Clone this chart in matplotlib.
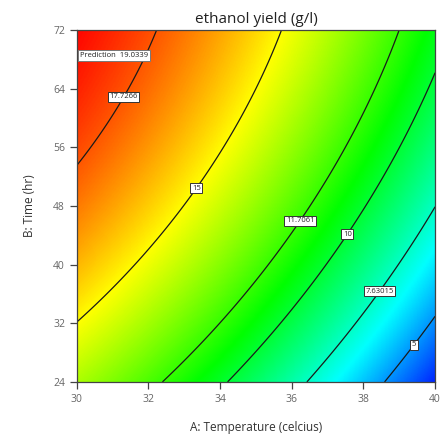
import numpy as np
import matplotlib
matplotlib.use("Agg")
import matplotlib.pyplot as plt
from matplotlib.colors import LinearSegmentedColormap

plt.rcParams["font.family"] = ["Open Sans", "DejaVu Sans"]

# Points read along the contour lines of the reference (temperature, time, yield)
temp_pts = [30, 30, 31.3, 32.3, 30, 33.3, 35.7, 32.4, 36.2, 39.0,
            34.25, 37.5, 37.9, 40, 36.5, 38.4, 40, 38.6, 39.35, 40]
time_pts = [72, 53, 62.9, 72, 32.5, 50.5, 72, 24, 46.1, 72,
            24, 44.3, 46.1, 66.8, 24, 36.5, 46.5, 24, 29.3, 33.1]
yield_pts = [19.0339, 17.7266, 17.7266, 17.7266, 15, 15, 15, 11.7061, 11.7061, 11.7061,
             10, 10, 10, 10, 7.63015, 7.63015, 7.63015, 5, 5, 5]

levels = [5, 7.63015, 10, 11.7061, 15, 17.7266]
level_text = ["5", "7.63015", "10", "11.7061", "15", "17.7266"]
label_pos = [(39.35, 29.3), (38.4, 36.5), (37.5, 44.3), (36.2, 46.1), (33.3, 50.5), (31.3, 62.9)]
prediction = 19.0339

x_ticks = [30, 32, 34, 36, 38, 40]
y_ticks = [24, 32, 40, 48, 56, 64, 72]

# quadratic response surface in coded units
def terms(t, h):
    a = (np.asarray(t) - 35) / 5
    b = (np.asarray(h) - 48) / 24
    return np.stack([np.ones_like(a), a, b, a * b, a ** 2, b ** 2], axis=-1)

coef, *_ = np.linalg.lstsq(terms(temp_pts, time_pts), np.array(yield_pts), rcond=None)

T, H = np.meshgrid(np.linspace(30, 40, 300), np.linspace(24, 72, 300))
Z = terms(T, H) @ coef

cmap = LinearSegmentedColormap.from_list(
    "de", ["#0000ff", "#00ffff", "#00ff00", "#ffff00", "#ff0000"])

fig = plt.figure(figsize=(4.44, 4.40), dpi=100)
ax = fig.add_axes([0.173, 0.132, 0.807, 0.8])

ax.imshow(Z, extent=[30, 40, 24, 72], origin="lower", aspect="auto",
          cmap=cmap, vmin=Z.min() - 0.6, vmax=Z.max() + 0.1, interpolation="bilinear")
cs = ax.contour(T, H, Z, levels=levels, colors="#1a1a1a", linewidths=0.9)
labels = ax.clabel(cs, inline=False, fontsize=5.5, manual=label_pos,
                   fmt=dict(zip(levels, level_text)))
for t in labels:
    t.set_rotation(0)
    t.set_color("#222222")
    t.set_bbox(dict(boxstyle="square,pad=0.2", fc="white", ec="#333333", lw=0.7))

ax.text(30.1, 68.5, "Prediction  %.4f" % prediction, fontsize=5.5, color="#222222",
        va="center", ha="left",
        bbox=dict(boxstyle="square,pad=0.25", fc="white", ec="#777777", lw=0.7))

ax.set_xlim(30, 40)
ax.set_ylim(24, 72)
ax.set_xticks(x_ticks)
ax.set_yticks(y_ticks)
ax.tick_params(direction="out", length=5, width=0.9, color="#444444",
               labelsize=7.5, labelcolor="#666666")
for s in ax.spines.values():
    s.set_color("#444444")
    s.set_linewidth(0.9)

ax.set_title("ethanol yield (g/l)", fontsize=11, color="#222222", pad=5)
ax.set_xlabel("A: Temperature (celcius)", fontsize=8.5, color="#333333", labelpad=12)
ax.set_ylabel("B: Time (hr)", fontsize=8.5, color="#333333", labelpad=12)

fig.savefig("out.png", dpi=100)
